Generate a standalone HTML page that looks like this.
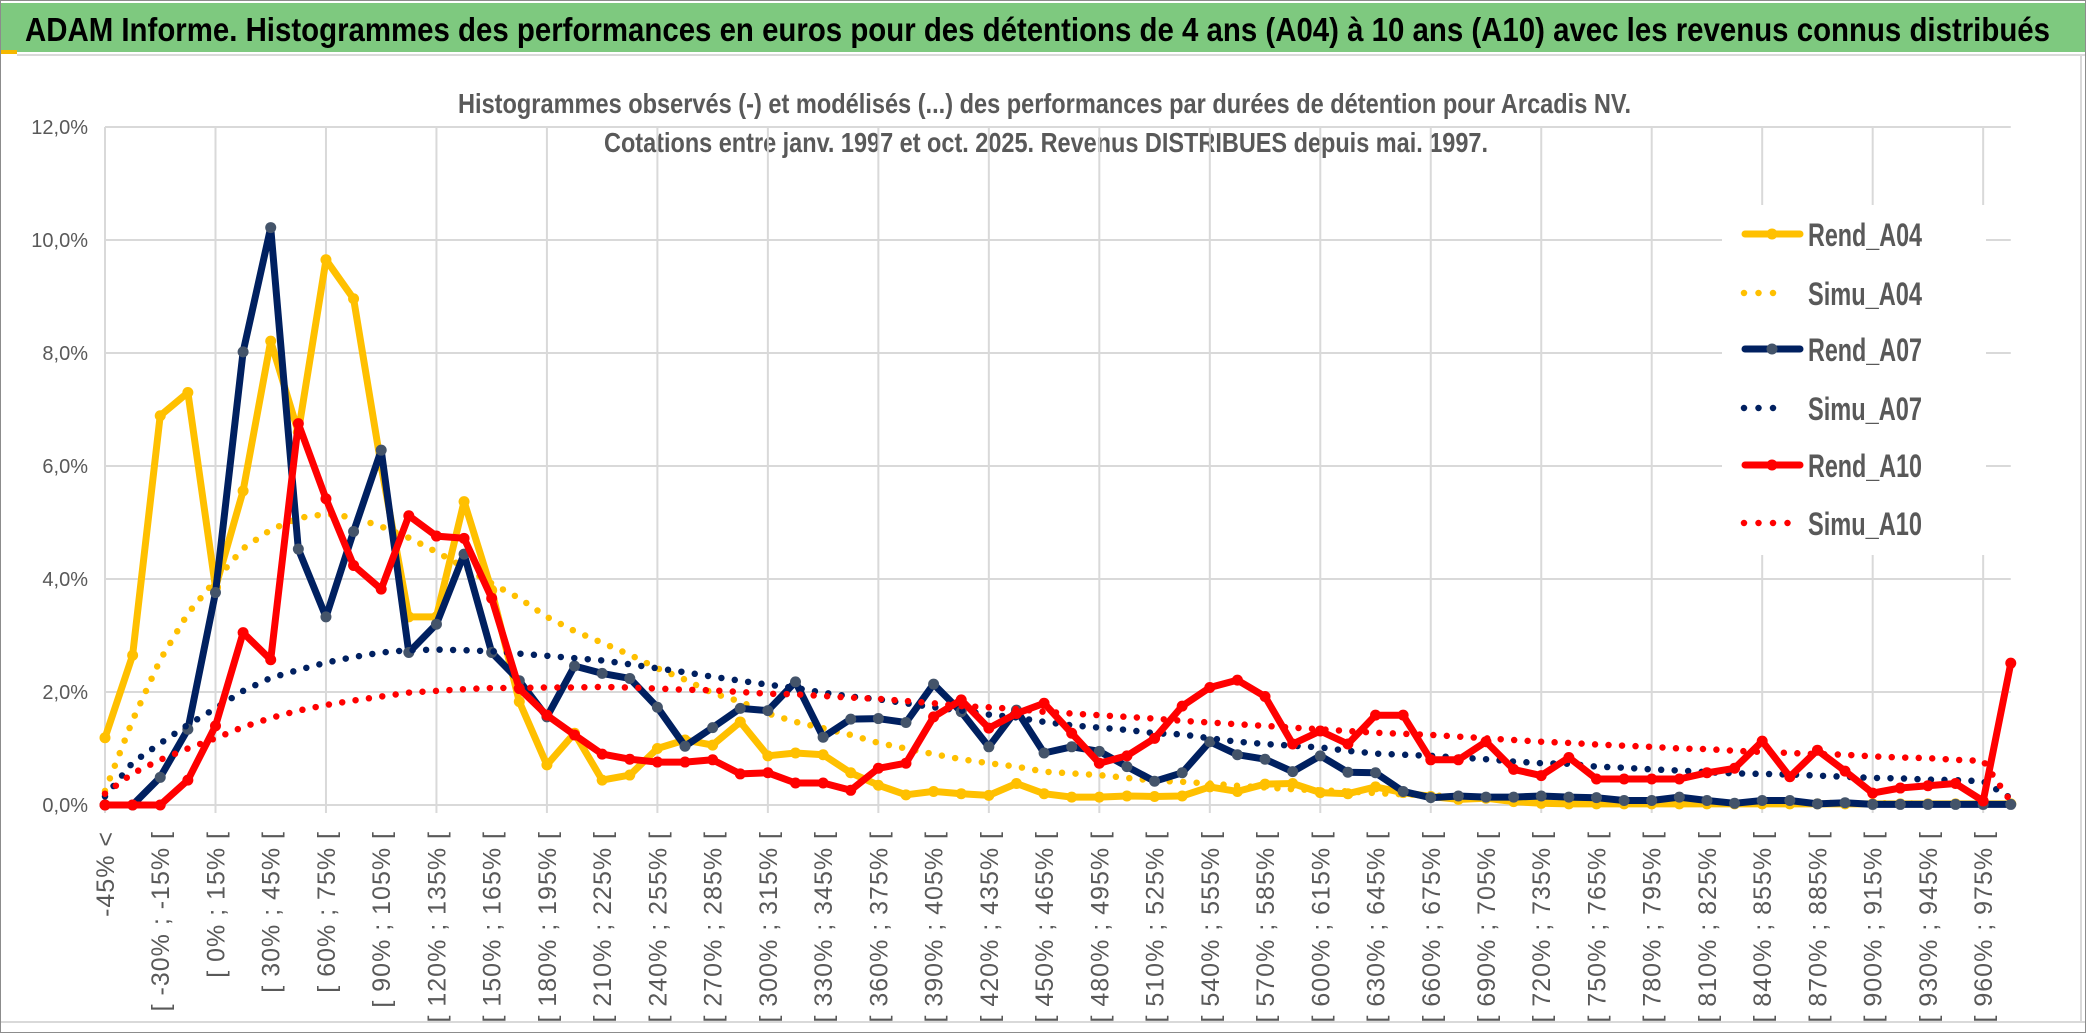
<!DOCTYPE html>
<html><head><meta charset="utf-8"><title>ADAM Informe - Arcadis NV</title>
<style>
html,body{margin:0;padding:0;background:#fff;}
svg{display:block;font-family:"Liberation Sans",sans-serif;}
</style></head>
<body>
<svg id="chart" width="2086" height="1033" viewBox="0 0 2086 1033" xmlns="http://www.w3.org/2000/svg">
  <rect x="0.5" y="0.5" width="2085" height="1032" fill="#fff" stroke="#8c8c8c"/>
  <rect x="1" y="3" width="2084" height="49" fill="#7ec97f"/>
  <rect x="1" y="50" width="16" height="4" fill="#f5b800"/>
  <line x1="17" y1="55" x2="2085" y2="55" stroke="#d9d9d9" stroke-width="2"/>
  <text x="25" y="41" font-size="33" font-weight="bold" fill="#000" textLength="2025" lengthAdjust="spacingAndGlyphs">ADAM Informe. Histogrammes des performances en euros pour des détentions de 4 ans (A04) à 10 ans (A10) avec les revenus connus distribués</text>
  <text x="458" y="113" font-size="28" font-weight="bold" fill="#595959" textLength="1173" lengthAdjust="spacingAndGlyphs">Histogrammes observés (-) et modélisés (...) des performances par durées de détention pour Arcadis NV.</text>
  <text x="604" y="152" font-size="28" font-weight="bold" fill="#595959" textLength="884" lengthAdjust="spacingAndGlyphs">Cotations entre janv. 1997 et oct. 2025. Revenus DISTRIBUES depuis mai. 1997.</text>
  <g id="grid"></g>
  <g id="yaxis"></g>
  <g id="xaxis"></g>
  <g id="series"></g>
  <g id="legend"></g>
  <line x1="1" y1="1022" x2="2085" y2="1022" stroke="#d9d9d9" stroke-width="2"/>
  <line x1="2081" y1="55" x2="2081" y2="1022" stroke="#d9d9d9" stroke-width="2"/>
</svg>
<script>
const yTicks = [0, 2, 4, 6, 8, 10, 12];
const yTickLabels = ["0,0%", "2,0%", "4,0%", "6,0%", "8,0%", "10,0%", "12,0%"];
const binStarts = [-45,-30,-15,0,15,30,45,60,75,90,105,120,135,150,165,180,195,210,225,240,255,270,285,300,315,330,345,360,375,390,405,420,435,450,465,480,495,510,525,540,555,570,585,600,615,630,645,660,675,690,705,720,735,750,765,780,795,810,825,840,855,870,885,900,915,930,945,960,975];
const rendA04 = [1.19,2.65,6.89,7.3,3.85,5.56,8.21,6.6,9.65,8.96, 6.0,3.33,3.33,5.37,3.8,1.83,0.71,1.27,0.44,0.53, 1.0,1.15,1.06,1.47,0.87,0.92,0.89,0.57,0.35,0.18, 0.24,0.2,0.17,0.38,0.2,0.14,0.14,0.16,0.15,0.16, 0.32,0.24,0.37,0.38,0.22,0.2,0.32,0.22,0.15,0.1, 0.12,0.06,0.03,0.02,0.02,0.02,0.02,0.02,0.02,0.02, 0.02,0.02,0.02,0.02,0.02,0.02,0.02,0.02,0.02,0.02];
const simuA04 = [0.25,1.5,2.57,3.39,3.98,4.54,4.87,5.08,5.15,5.09, 4.93,4.73,4.48,4.21,3.92,3.66,3.33,3.08,2.87,2.66, 2.42,2.22,1.98,1.83,1.62,1.47,1.36,1.24,1.1,1.0, 0.9,0.81,0.74,0.68,0.59,0.56,0.53,0.48,0.43,0.41, 0.38,0.34,0.31,0.28,0.26,0.24,0.21,0.19,0.17,0.15, 0.14,0.12,0.11,0.1,0.09,0.08,0.07,0.06,0.06,0.05, 0.05,0.04,0.04,0.03,0.03,0.03,0.02,0.02,0.02,0.01];
const rendA07 = [0,0,0.49,1.34,3.76,8.02,10.22,4.53,3.33,4.84, 6.28,2.7,3.2,4.44,2.7,2.2,1.56,2.46,2.33,2.24, 1.73,1.04,1.37,1.71,1.67,2.18,1.2,1.52,1.53,1.46, 2.14,1.65,1.03,1.68,0.92,1.03,0.95,0.68,0.42,0.57, 1.12,0.89,0.81,0.59,0.87,0.58,0.57,0.24,0.13,0.16, 0.14,0.14,0.16,0.14,0.13,0.08,0.08,0.14,0.08,0.03, 0.08,0.08,0.02,0.04,0.01,0.01,0.01,0.01,0.01,0.01];
const simuA07 = [0.15,0.75,1.09,1.42,1.71,2.02,2.25,2.39,2.52,2.62, 2.7,2.74,2.75,2.74,2.72,2.68,2.64,2.6,2.56,2.49, 2.42,2.35,2.27,2.2,2.13,2.07,1.99,1.92,1.87,1.8, 1.73,1.67,1.6,1.55,1.47,1.41,1.37,1.33,1.27,1.25, 1.18,1.12,1.08,1.05,1.02,0.96,0.91,0.89,0.87,0.84, 0.81,0.77,0.74,0.73,0.68,0.66,0.63,0.61,0.58,0.56, 0.55,0.54,0.52,0.5,0.48,0.47,0.45,0.44,0.42,0.12];
const rendA10 = [0,0,0,0.44,1.4,3.05,2.57,6.75,5.42,4.24, 3.82,5.12,4.76,4.72,3.66,2.06,1.59,1.24,0.9,0.81, 0.76,0.76,0.8,0.55,0.57,0.39,0.39,0.26,0.65,0.74, 1.56,1.86,1.36,1.62,1.8,1.27,0.74,0.87,1.18,1.75, 2.08,2.21,1.92,1.08,1.31,1.08,1.59,1.59,0.8,0.8, 1.12,0.63,0.52,0.84,0.46,0.46,0.46,0.46,0.57,0.65, 1.13,0.5,0.97,0.6,0.21,0.3,0.34,0.38,0.07,2.51];
const simuA10 = [0.2,0.56,0.8,1.0,1.18,1.38,1.54,1.67,1.77,1.85, 1.92,1.99,2.02,2.05,2.07,2.07,2.08,2.08,2.09,2.08, 2.06,2.04,2.03,2.0,1.97,1.96,1.93,1.9,1.88,1.84, 1.8,1.75,1.73,1.7,1.65,1.62,1.59,1.56,1.53,1.49, 1.46,1.43,1.4,1.37,1.34,1.31,1.28,1.26,1.24,1.21, 1.18,1.15,1.12,1.1,1.07,1.05,1.03,1.0,0.99,0.96, 0.94,0.92,0.9,0.89,0.86,0.84,0.83,0.8,0.78,0.06];
const seriesNames = ["Rend_A04","Simu_A04","Rend_A07","Simu_A07","Rend_A10","Simu_A10"];

const NS = "http://www.w3.org/2000/svg";
const categories = ["-45% <"];
for (let i = 1; i < binStarts.length; i++) categories.push("[ " + binStarts[i-1] + "% ; " + binStarts[i] + "% [");
categories.push("> 975%");

const X0 = 105, XSTEP = 27.62, Y0 = 805, YPX = 56.5;
function xScale(i){ return X0 + XSTEP * i; }
function yScale(v){ return Y0 - YPX * v; }
const nCat = categories.length;
const xEnd = xScale(nCat - 1);

function mk(tag, attrs, parent){
  const e = document.createElementNS(NS, tag);
  for (const k in attrs) e.setAttribute(k, attrs[k]);
  parent.appendChild(e);
  return e;
}

const grid = document.getElementById("grid");
yTicks.forEach(function(t){
  const l = mk("line", {x1: X0, x2: xEnd, y1: yScale(t), y2: yScale(t), stroke: "#d9d9d9", "stroke-width": 2}, grid);
  
  
});
for (let i = 0; i < nCat; i += 4) {
  const l = mk("line", {x1: xScale(i), x2: xScale(i), y1: yScale(12), y2: Y0 + 8, stroke: "#d9d9d9", "stroke-width": 2}, grid);
  
  
}

const yaxis = document.getElementById("yaxis");
yTicks.forEach(function(t, k){
  const tx = mk("text", {x: 88, y: yScale(t) + 7, "text-anchor": "end", "font-size": 20, fill: "#595959"}, yaxis);
  tx.textContent = yTickLabels[k];
  
  
});

const xaxis = document.getElementById("xaxis");
for (let i = 0; i < nCat; i += 2) {
  const x = xScale(i) + 9;
  const tx = mk("text", {x: 0, y: 0, "text-anchor": "end", "font-size": 25, "letter-spacing": "1", fill: "#595959", transform: "translate(" + x + ",831) rotate(-90)"}, xaxis);
  tx.textContent = categories[i];
  
  
}

const seriesG = document.getElementById("series");
function pts(vals){ return vals.map(function(v, i){ return xScale(i).toFixed(1) + "," + yScale(v).toFixed(1); }).join(" "); }
function drawRend(vals, color, markerColor, name){
  const g = mk("g", {}, seriesG);
  
  
  const pl = mk("polyline", {points: pts(vals), fill: "none", stroke: color, "stroke-width": 7, "stroke-linejoin": "round", "stroke-linecap": "round"}, g);
  
  
  vals.forEach(function(v, i){
    const c = mk("circle", {cx: xScale(i), cy: yScale(v), r: 5.5, fill: markerColor}, g);
    
    
  });
}
function drawSimu(vals, color, name){
  const pl = mk("polyline", {points: pts(vals), fill: "none", stroke: color, "stroke-width": 6.5, "stroke-dasharray": "0 13.5", "stroke-linecap": "round", "stroke-linejoin": "round"}, seriesG);
  
  
}
drawRend(rendA04, "#ffc000", "#ffc000", "rend-a04-series");
drawSimu(simuA04, "#ffc000", "simu-a04-series");
drawRend(rendA07, "#002060", "#44546a", "rend-a07-series");
drawSimu(simuA07, "#002060", "simu-a07-series");
drawRend(rendA10, "#ff0000", "#ff0000", "rend-a10-series");
drawSimu(simuA10, "#ff0000", "simu-a10-series");

const legend = document.getElementById("legend");
const lbg = mk("rect", {x: 1722, y: 205, width: 264, height: 350, fill: "#fff"}, legend);


const legColors = ["#ffc000","#ffc000","#002060","#002060","#ff0000","#ff0000"];
const legMarkers = ["#ffc000","#ffc000","#44546a","#44546a","#ff0000","#ff0000"];
const legYs = [234, 293, 349, 408, 465, 523];
seriesNames.forEach(function(nm, k){
  const g = mk("g", {}, legend);
  
  
  const y = legYs[k];
  if (nm.indexOf("Rend") === 0) {
    mk("line", {x1: 1745, x2: 1800, y1: y, y2: y, stroke: legColors[k], "stroke-width": 7, "stroke-linecap": "round"}, g);
    mk("circle", {cx: 1772, cy: y, r: 5.5, fill: legMarkers[k]}, g);
  } else {
    const n = nm === "Simu_A10" ? 5 : 4;
    mk("line", {x1: 1744, x2: 1744 + 14.5 * (n - 1), y1: y, y2: y, stroke: legColors[k], "stroke-width": 6.5, "stroke-dasharray": "0 14.5", "stroke-linecap": "round"}, g);
  }
  const t = mk("text", {x: 1808, y: y + 12, "font-size": 32, "font-weight": "bold", fill: "#595959", textLength: 114, lengthAdjust: "spacingAndGlyphs"}, g);
  t.textContent = nm;
  
  
});
</script>
</body></html>
